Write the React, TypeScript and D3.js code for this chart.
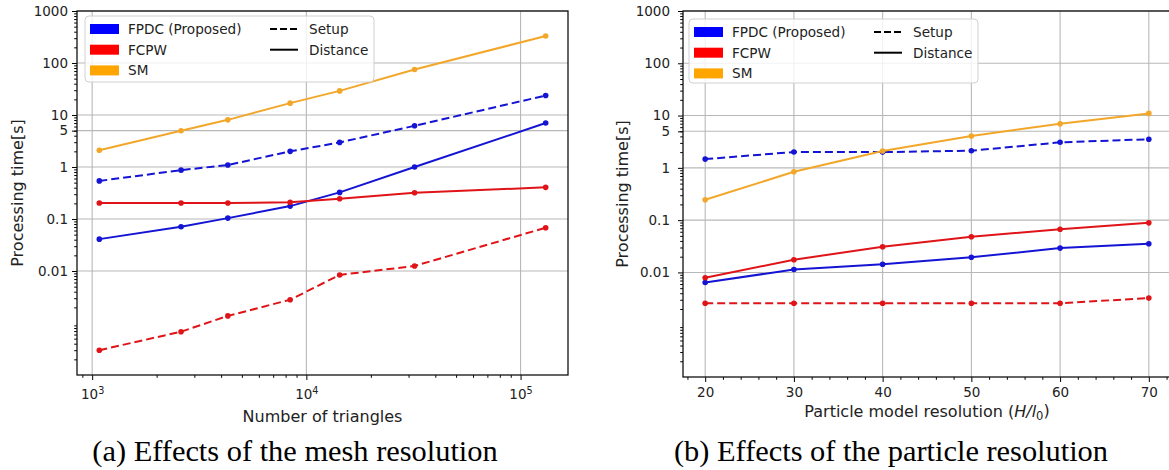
import { useEffect, useRef } from "react";
import * as d3 from "d3";

// legend + colours
const seriesNames = ["FPDC (Proposed)", "FCPW", "SM"];
const patchColors = ["#0000ff", "#ff0000", "#ffa500"];
const lineColors = ["#1414d4", "#e01418", "#f2a72a"];
const styleNames = ["Setup", "Distance"];

// shared y axis
const yTickValues = [1000, 100, 10, 5, 1, 0.1, 0.01];
const yTickLabels = ["1000", "100", "10", "5", "1", "0.1", "0.01"];

// (a) mesh resolution
const meshTriangles = [1080, 2600, 4300, 8400, 14300, 32000, 131000];
const meshTicks = [1000, 10000, 100000];
const meshFpdcSetup = [0.54, 0.87, 1.09, 2.0, 2.97, 6.2, 23.7];
const meshFpdcDist = [0.041, 0.071, 0.104, 0.177, 0.325, 1.0, 7.0];
const meshFcpwSetup = [0.0003, 0.00068, 0.00137, 0.0028, 0.0084, 0.0125, 0.068];
const meshFcpwDist = [0.203, 0.203, 0.203, 0.21, 0.245, 0.32, 0.406];
const meshSmDist = [2.1, 4.97, 8.07, 16.9, 29.1, 75, 331];

// (b) particle resolution
const particleRes = [20, 30, 40, 50, 60, 70];
const particleTicks = [20, 30, 40, 50, 60, 70];
const partFpdcSetup = [1.47, 2.01, 2.0, 2.13, 3.08, 3.52];
const partFpdcDist = [0.0064, 0.0114, 0.0143, 0.0195, 0.0292, 0.0354];
const partFcpwSetup = [0.00258, 0.00258, 0.00258, 0.00258, 0.00258, 0.00323];
const partFcpwDist = [0.0079, 0.0175, 0.031, 0.048, 0.0668, 0.0887];
const partSmDist = [0.246, 0.84, 2.1, 4.08, 6.95, 11.0];

const W = 1169,
  H = 470;
const sans = "'DejaVu Sans', sans-serif";

function drawPanel(svg, p) {
  const g = svg.append("g");
  let x;
  if (p.log) {
    const lo = Math.log10(d3.min(p.xs)),
      hi = Math.log10(d3.max(p.xs));
    const pad = (hi - lo) * 0.05;
    x = d3.scaleLog().domain([10 ** (lo - pad), 10 ** (hi + pad)]);
  } else {
    const [lo, hi] = d3.extent(p.xs);
    const pad = (hi - lo) * 0.05;
    x = d3.scaleLinear().domain([lo - pad, hi + pad]);
  }
  x.range([p.left, p.right]);
  const y = d3.scaleLog().domain([1e-4, 1e3]).range([p.bottom, p.top]);

  // grid
  g.append("g")
    .selectAll("line")
    .data(p.xTicks)
    .join("line")
    .attr("x1", (d) => x(d))
    .attr("x2", (d) => x(d))
    .attr("y1", p.top)
    .attr("y2", p.bottom)
    .attr("stroke", "#b8b8b8")
    .attr("stroke-width", 1.1);
  g.append("g")
    .selectAll("line")
    .data(yTickValues)
    .join("line")
    .attr("x1", p.left)
    .attr("x2", p.right)
    .attr("y1", (d) => y(d))
    .attr("y2", (d) => y(d))
    .attr("stroke", "#b8b8b8")
    .attr("stroke-width", 1.1);

  // series
  const line = d3
    .line()
    .x((d) => x(d[0]))
    .y((d) => y(d[1]));
  p.series.forEach((s) => {
    const pts = p.xs.map((v, i) => [v, s.values[i]]);
    g.append("path")
      .attr("d", line(pts))
      .attr("fill", "none")
      .attr("stroke", s.color)
      .attr("stroke-width", 2)
      .attr("stroke-dasharray", s.dashed ? "8,4" : null);
    g.append("g")
      .selectAll("circle")
      .data(pts)
      .join("circle")
      .attr("cx", (d) => x(d[0]))
      .attr("cy", (d) => y(d[1]))
      .attr("r", 2.8)
      .attr("fill", s.color);
  });

  // y axis
  const ya = g
    .append("g")
    .attr("transform", `translate(${p.left},0)`)
    .call(
      d3
        .axisLeft(y)
        .tickValues(yTickValues)
        .tickFormat((d, i) => yTickLabels[i])
        .tickSize(5)
        .tickPadding(p.yPad)
    );
  ya.select(".domain").remove();
  ya.selectAll("text").attr("font-family", sans).attr("font-size", 13.5).attr("fill", "#222");
  const yMinor = y.ticks().filter((v) => Math.abs(Math.log10(v) - Math.round(Math.log10(v))) > 1e-6);
  const ym = g
    .append("g")
    .attr("transform", `translate(${p.left},0)`)
    .call(d3.axisLeft(y).tickValues(yMinor).tickFormat("").tickSize(2.8));
  ym.select(".domain").remove();

  // x axis
  const xa = g
    .append("g")
    .attr("transform", `translate(0,${p.bottom})`)
    .call(d3.axisBottom(x).tickValues(p.xTicks).tickSize(5).tickPadding(p.xPad));
  xa.select(".domain").remove();
  xa.selectAll("text").attr("font-family", sans).attr("font-size", 13.5).attr("fill", "#222");
  if (p.log) {
    xa.selectAll(".tick text").each(function (d) {
      const t = d3.select(this);
      t.text(null);
      t.append("tspan").text("10");
      t.append("tspan")
        .attr("dy", "-0.45em")
        .attr("font-size", "0.72em")
        .text(String(Math.round(Math.log10(d))));
    });
  }
  const xMinor = p.log
    ? x.ticks().filter((v) => Math.abs(Math.log10(v) - Math.round(Math.log10(v))) > 1e-6)
    : d3.range(18, x.domain()[1], 2).filter((v) => v % 10 !== 0);
  const xm = g
    .append("g")
    .attr("transform", `translate(0,${p.bottom})`)
    .call(d3.axisBottom(x).tickValues(xMinor).tickFormat("").tickSize(2.8));
  xm.select(".domain").remove();

  // frame
  g.append("rect")
    .attr("x", p.left)
    .attr("y", p.top)
    .attr("width", p.right - p.left)
    .attr("height", p.bottom - p.top)
    .attr("fill", "none")
    .attr("stroke", "#111")
    .attr("stroke-width", 1.3);

  // legend
  const L = p.legend;
  const lg = g.append("g");
  lg.append("rect")
    .attr("x", L.x)
    .attr("y", L.y)
    .attr("width", 289)
    .attr("height", L.h)
    .attr("rx", 4)
    .attr("fill", "white")
    .attr("fill-opacity", 0.8)
    .attr("stroke", "#d0d0d0");
  seriesNames.forEach((name, i) => {
    const cy = L.y + 13 + i * 20.7;
    lg.append("rect")
      .attr("x", L.x + 5)
      .attr("y", cy - 5)
      .attr("width", 29)
      .attr("height", 10)
      .attr("fill", patchColors[i]);
    lg.append("text")
      .attr("x", L.x + 43)
      .attr("y", cy + 5)
      .attr("font-family", sans)
      .attr("font-size", 13.6)
      .attr("fill", "#222")
      .text(name);
  });
  styleNames.forEach((name, i) => {
    const cy = L.y + 13 + i * 20.7;
    lg.append("line")
      .attr("x1", L.x + 185)
      .attr("x2", L.x + 213)
      .attr("y1", cy)
      .attr("y2", cy)
      .attr("stroke", "#000")
      .attr("stroke-width", 2)
      .attr("stroke-dasharray", i === 0 ? "7,3" : null);
    lg.append("text")
      .attr("x", L.x + 224)
      .attr("y", cy + 5)
      .attr("font-family", sans)
      .attr("font-size", 13.6)
      .attr("fill", "#222")
      .text(name);
  });

  // axis titles
  const midY = (p.top + p.bottom) / 2;
  g.append("text")
    .attr("transform", `translate(${p.yLabelX},${midY}) rotate(-90)`)
    .attr("text-anchor", "middle")
    .attr("dy", "0.35em")
    .attr("font-family", sans)
    .attr("font-size", 16)
    .attr("fill", "#222")
    .text("Processing time[s]");
  const xt = g
    .append("text")
    .attr("x", (p.left + p.right) / 2)
    .attr("y", p.xTitleY)
    .attr("text-anchor", "middle")
    .attr("font-family", sans)
    .attr("font-size", 16)
    .attr("fill", "#222");
  p.xTitle(xt);

  // caption
  svg
    .append("text")
    .attr("x", p.captionX)
    .attr("y", 461)
    .attr("text-anchor", "middle")
    .attr("font-family", "'Liberation Serif', 'Times New Roman', serif")
    .attr("font-size", 30.4)
    .attr("fill", "#000")
    .text(p.caption);
}

export default function App() {
  const ref = useRef(null);

  useEffect(() => {
    document.body.style.margin = "0";
    const svg = d3.select(ref.current);
    svg.selectAll("*").remove();
    svg.append("rect").attr("width", W).attr("height", H).attr("fill", "white");

    drawPanel(svg, {
      log: true,
      xs: meshTriangles,
      xTicks: meshTicks,
      left: 77,
      right: 568,
      top: 11,
      bottom: 375,
      yPad: 4,
      xPad: 9,
      series: [
        { values: meshFpdcSetup, color: lineColors[0], dashed: true },
        { values: meshFpdcDist, color: lineColors[0], dashed: false },
        { values: meshFcpwSetup, color: lineColors[1], dashed: true },
        { values: meshFcpwDist, color: lineColors[1], dashed: false },
        { values: meshSmDist, color: lineColors[2], dashed: false },
      ],
      legend: { x: 85, y: 16, h: 66 },
      yLabelX: 17,
      xTitleY: 422,
      xTitle: (t) => t.text("Number of triangles"),
      caption: "(a) Effects of the mesh resolution",
      captionX: 295,
    });

    drawPanel(svg, {
      log: false,
      xs: particleRes,
      xTicks: particleTicks,
      left: 683,
      right: 1171,
      top: 11,
      bottom: 377,
      yPad: 8,
      xPad: 5,
      series: [
        { values: partFpdcSetup, color: lineColors[0], dashed: true },
        { values: partFpdcDist, color: lineColors[0], dashed: false },
        { values: partFcpwSetup, color: lineColors[1], dashed: true },
        { values: partFcpwDist, color: lineColors[1], dashed: false },
        { values: partSmDist, color: lineColors[2], dashed: false },
      ],
      legend: { x: 689, y: 19, h: 64 },
      yLabelX: 622,
      xTitleY: 417,
      xTitle: (t) => {
        t.append("tspan").text("Particle model resolution (");
        t.append("tspan").attr("font-style", "italic").text("H/l");
        t.append("tspan").attr("dy", "0.25em").attr("font-size", "0.72em").text("0");
        t.append("tspan").attr("dy", "-0.25em").text(")");
      },
      caption: "(b) Effects of the particle resolution",
      captionX: 891,
    });
  }, []);

  return (
    <svg
      ref={ref}
      width={W}
      height={H}
      style={{ position: "absolute", left: 0, top: 0, display: "block" }}
    />
  );
}
